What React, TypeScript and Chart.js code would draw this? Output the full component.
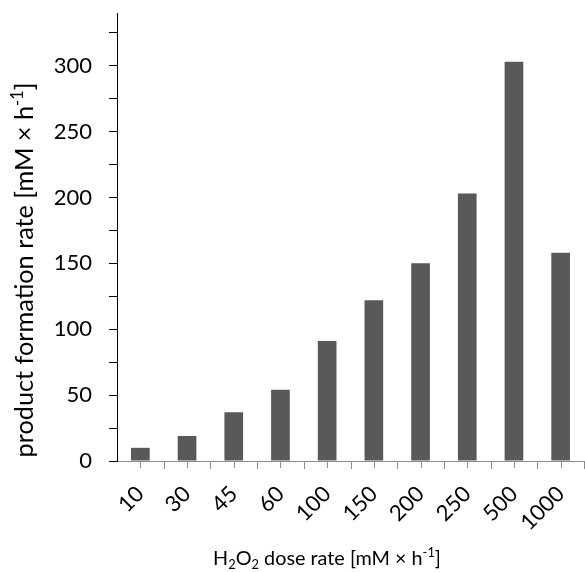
import { useEffect, useRef } from 'react';
import { Chart, registerables } from 'chart.js';

Chart.register(...registerables);

const categories = ['10', '30', '45', '60', '100', '150', '200', '250', '500', '1000'];
const formationRate = [10, 19, 37, 54, 91, 122, 150, 203, 303, 158];
const yMajorStep = 50;
const yMinorStep = 25;
const yMinorTicks = [0, 25, 50, 75, 100, 125, 150, 175, 200, 225, 250, 275, 300, 325];
const yMax = 340;

type Seg = { t: string; s?: 'sub' | 'sup' };
const xTitle: Seg[] = [
  { t: 'H' }, { t: '2', s: 'sub' }, { t: 'O' }, { t: '2', s: 'sub' },
  { t: ' dose rate [mM × h' }, { t: '-1', s: 'sup' }, { t: ']' },
];
const yTitle: Seg[] = [
  { t: 'product formation rate [mM × h' }, { t: '-1', s: 'sup' }, { t: ']' },
];

const FONT = 'Lato, "Open Sans", sans-serif';

function measureRich(ctx: CanvasRenderingContext2D, segs: Seg[], size: number) {
  let w = 0;
  for (const s of segs) {
    ctx.font = `${s.s ? size * 0.65 : size}px ${FONT}`;
    w += ctx.measureText(s.t).width;
  }
  return w;
}

function drawRich(ctx: CanvasRenderingContext2D, segs: Seg[], targetWidth: number) {
  const base = 20;
  const size = base * targetWidth / measureRich(ctx, segs, base);
  const total = measureRich(ctx, segs, size);
  let x = -total / 2;
  ctx.textBaseline = 'alphabetic';
  ctx.textAlign = 'left';
  for (const s of segs) {
    const fs = s.s ? size * 0.65 : size;
    ctx.font = `${fs}px ${FONT}`;
    const dy = s.s === 'sup' ? -size * 0.38 : s.s === 'sub' ? size * 0.2 : 0;
    ctx.fillText(s.t, x, dy);
    x += ctx.measureText(s.t).width;
  }
}

const decorPlugin = {
  id: 'decor',
  afterDraw(chart: any) {
    const ctx: CanvasRenderingContext2D = chart.ctx;
    const xs = chart.scales.x;
    const bottom = chart.chartArea.bottom;
    ctx.save();
    ctx.strokeStyle = '#8c8c8c';
    ctx.lineWidth = 1;
    const n = categories.length;
    const half = (xs.getPixelForTick(1) - xs.getPixelForTick(0)) / 2;
    ctx.beginPath();
    for (let i = 0; i < n; i++) {
      const c = Math.round(xs.getPixelForTick(i)) + 0.5;
      ctx.moveTo(c, bottom);
      ctx.lineTo(c, bottom + 7);
      const b = Math.round(xs.getPixelForTick(i) + half) + 0.5;
      ctx.moveTo(b, bottom);
      ctx.lineTo(b, bottom + 8);
    }
    ctx.stroke();
    ctx.fillStyle = '#000';
    ctx.save();
    ctx.translate(327, 565);
    drawRich(ctx, xTitle, 228);
    ctx.restore();
    ctx.save();
    ctx.translate(33, 270);
    ctx.rotate(-Math.PI / 2);
    drawRich(ctx, yTitle, 375);
    ctx.restore();
    ctx.restore();
  },
};

export default function App() {
  const ref = useRef<HTMLCanvasElement | null>(null);
  useEffect(() => {
    if (!ref.current) return;
    const chart = new Chart(ref.current, {
      type: 'bar',
      data: {
        labels: categories,
        datasets: [
          {
            data: formationRate,
            backgroundColor: '#595959',
            barPercentage: 0.4,
            categoryPercentage: 1,
          },
        ],
      },
      options: {
        animation: false,
        responsive: false,
        layout: { padding: { left: 0, right: 1, top: 13, bottom: 0 } },
        plugins: { legend: { display: false }, tooltip: { enabled: false } },
        scales: {
          x: {
            offset: true,
            grid: { display: false, drawTicks: false },
            border: { display: true, color: '#8c8c8c', width: 1 },
            ticks: {
              color: '#000',
              font: { family: FONT, size: 22 },
              minRotation: 45,
              maxRotation: 45,
              padding: 20,
              autoSkip: false,
            },
            afterFit: (s: any) => {
              s.height = 111;
              s.paddingLeft = 0;
              s.paddingRight = 0;
            },
          },
          y: {
            min: 0,
            max: yMax,
            afterBuildTicks: (s: any) => {
              s.ticks = yMinorTicks.map((v) => ({ value: v }));
            },
            grid: {
              display: true,
              drawOnChartArea: false,
              drawTicks: true,
              tickLength: 8,
              color: '#000',
            },
            border: { display: true, color: '#000', width: 1 },
            ticks: {
              stepSize: yMinorStep,
              color: '#000',
              font: { family: FONT, size: 22 },
              padding: 17,
              callback: (v: any) => (Number(v) % yMajorStep === 0 ? String(v) : ''),
            },
            afterFit: (s: any) => {
              s.width = 117;
              s.paddingTop = 0;
              s.paddingBottom = 0;
            },
          },
        },
      },
      plugins: [decorPlugin],
    });
    return () => chart.destroy();
  }, []);
  return (
    <div style={{ position: 'absolute', left: 0, top: 0, width: 585, height: 572, background: '#fff' }}>
      <canvas ref={ref} width={585} height={572} style={{ display: 'block' }} />
    </div>
  );
}
